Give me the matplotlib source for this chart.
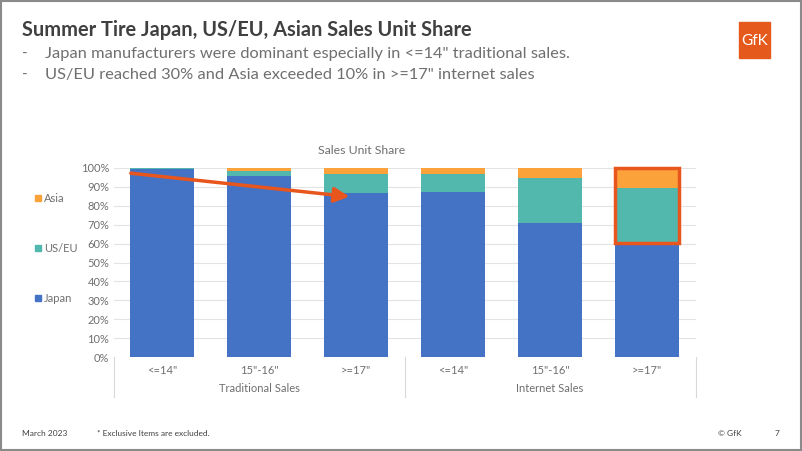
import matplotlib.pyplot as plt
from matplotlib.patches import Rectangle

# данные
categories = ['<=14"', '15"-16"', '>=17"', '<=14"', '15"-16"', '>=17"']
groups = ['Traditional Sales', 'Internet Sales']
japan = [99.3, 96.0, 86.6, 87.5, 71.0, 59.5]
us_eu = [0.6, 2.4, 10.2, 9.5, 23.7, 30.0]
asia = [0.1, 1.6, 3.2, 3.0, 5.3, 10.5]
series_names = ['Japan', 'US/EU', 'Asia']

c_japan = '#4472C4'
c_useu = '#52B7AD'
c_asia = '#FBA33A'
c_accent = '#E8561E'
c_text = '#6f6f6f'

plt.rcParams['font.family'] = ['Lato', 'DejaVu Sans']

W, H = 802, 451
fig = plt.figure(figsize=(W / 100, H / 100), dpi=100)

# фон слайда в пиксельных координатах
bg = fig.add_axes([0, 0, 1, 1])
bg.set_xlim(0, W)
bg.set_ylim(H, 0)
bg.axis('off')
bg.add_patch(Rectangle((1, 1), W - 2, H - 2, fill=False, ec='#8a8a8a', lw=1.5))

bg.text(22, 36, 'Summer Tire Japan, US/EU, Asian Sales Unit Share', fontsize=14.4,
        fontweight='bold', color='#404040', va='baseline')
bg.text(22, 58, '-', fontsize=11, color=c_text, va='baseline')
bg.text(45, 58, 'Japan manufacturers were dominant especially in <=14" traditional sales.',
        fontsize=11.8, color=c_text, va='baseline')
bg.text(22, 79, '-', fontsize=11, color=c_text, va='baseline')
bg.text(45, 79, 'US/EU reached 30% and Asia exceeded 10% in >=17" internet sales',
        fontsize=11.8, color=c_text, va='baseline')

# логотип
bg.add_patch(Rectangle((739, 22), 31, 36, color='#E55A1C'))
bg.text(754.5, 41, 'GfK', fontsize=11, color='white', ha='center', va='center')

# подвал
bg.text(22, 433, 'March 2023', fontsize=6, color='#404040', va='center')
bg.text(97, 433, '* Exclusive Items are excluded.', fontsize=6, color='#404040', va='center')
bg.text(718, 433, '© GfK', fontsize=6, color='#404040', va='center')
bg.text(777, 433, '7', fontsize=6, color='#404040', va='center', ha='center')

# легенда
for name, col, y in zip(series_names, [c_japan, c_useu, c_asia], [298, 248, 198]):
    bg.add_patch(Rectangle((35, y - 3), 6, 6, color=col))
    bg.text(44, y, name, fontsize=8, color=c_text, va='center')

bg.text(362, 150, 'Sales Unit Share', fontsize=8.8, color=c_text, ha='center', va='center')

# график
ax = fig.add_axes([113.5 / W, (H - 357) / H, 582 / W, 189 / H])
x = range(len(categories))
bw = 0.67
ax.bar(x, japan, bw, color=c_japan, zorder=2)
bot = [a for a in japan]
ax.bar(x, us_eu, bw, bottom=bot, color=c_useu, zorder=2)
bot = [a + b for a, b in zip(japan, us_eu)]
ax.bar(x, asia, bw, bottom=bot, color=c_asia, zorder=2)

ax.set_xlim(-0.5, 5.5)
ax.set_ylim(0, 100)
ax.set_yticks(range(0, 101, 10))
ax.set_yticklabels([f'{v}%' for v in range(0, 101, 10)], fontsize=8, color=c_text)
ax.tick_params(axis='y', length=0, pad=3)
ax.set_xticks([])
ax.grid(axis='y', color='#e3e3e3', lw=0.8, zorder=0)
for s in ax.spines.values():
    s.set_visible(False)

trans = ax.get_xaxis_transform()
for i, c in enumerate(categories):
    ax.text(i, -0.07, c, transform=trans, ha='center', va='center', fontsize=8, color=c_text)
for g, gi in zip(groups, [1, 4]):
    ax.text(gi, -0.165, g, transform=trans, ha='center', va='center', fontsize=8, color=c_text)
for xs in [-0.5, 2.5, 5.5]:
    ax.plot([xs, xs], [0, -0.21], transform=trans, color='#d9d9d9', lw=0.8, clip_on=False)

# стрелка и рамка
ax.annotate('', xy=(1.96, 84.7), xytext=(-0.35, 97.4),
            arrowprops=dict(arrowstyle='-|>,head_length=0.9,head_width=0.45',
                            color=c_accent, lw=2.5), annotation_clip=False)
ax.add_patch(Rectangle((5 - bw / 2, japan[5] + 0.8), bw, 100 - japan[5] - 0.8, fill=False,
                       ec=c_accent, lw=2.5, zorder=4, clip_on=False))

fig.savefig('out.png', dpi=100)
